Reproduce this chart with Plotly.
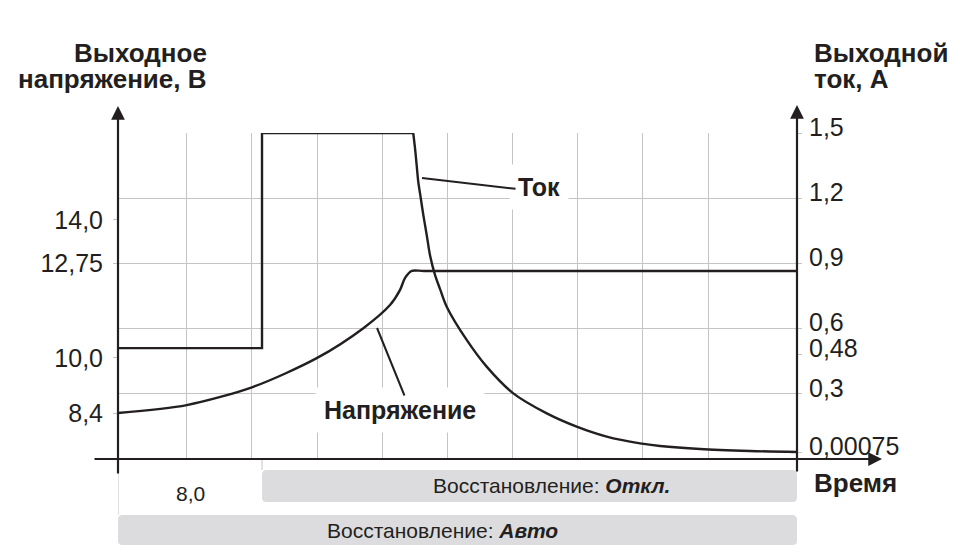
import plotly.graph_objects as go

# ---------------- data ----------------
# time axis in seconds; voltage in V (left axis); current in A (right axis)
voltage_t = [0.0, 3.82, 7.52, 11.04, 13.63, 15.11, 15.67, 15.94, 16.32, 17.0, 37.72]
voltage_v = [8.40, 8.63, 9.16, 9.99, 10.86, 11.53, 11.97, 12.31, 12.52, 12.52, 12.52]

current_step_t = [0.0, 8.0, 8.0, 16.4]
current_step_a = [0.51, 0.51, 1.5, 1.5]

current_decay_t = [16.4, 16.5, 16.59, 16.68, 16.82, 16.96, 17.15, 17.33, 17.61, 17.89,
                   18.26, 19.37, 20.48, 21.96, 23.82, 25.48, 27.15, 29.0, 30.11, 32.33,
                   35.11, 37.72]
current_decay_a = [1.5, 1.43, 1.353, 1.276, 1.2, 1.123, 1.031, 0.939, 0.847, 0.782,
                   0.701, 0.548, 0.425, 0.302, 0.21, 0.149, 0.103, 0.072, 0.06, 0.046,
                   0.037, 0.032]

grid_t = [3.83, 7.44, 11.06, 14.67, 18.28, 21.94, 25.5, 29.11, 32.78]
t_max = 37.72
off_start_t = 8.0

voltage_tick_vals = [8.4, 10.0, 12.75, 14.0]
voltage_tick_text = ["8,4", "10,0", "12,75", "14,0"]
current_tick_vals = [0.032, 0.3, 0.48, 0.6, 0.9, 1.2, 1.5]
current_tick_text = ["0,00075", "0,3", "0,48", "0,6", "0,9", "1,2", "1,5"]
current_grid_vals = [0.3, 0.6, 0.9, 1.2, 1.5]

# ---------------- style ----------------
INK = "#231f20"
GRID = "#c4c4c4"
BAND = "#dcdcde"
FONT = "Liberation Sans, Arial, sans-serif"
LW = 2.4

fig = go.Figure()
fig.add_trace(go.Scatter(x=voltage_t, y=voltage_v, mode="lines", yaxis="y",
                         line=dict(color=INK, width=LW, shape="spline", smoothing=0.8),
                         cliponaxis=False, hoverinfo="skip"))
fig.add_trace(go.Scatter(x=current_step_t, y=current_step_a, mode="lines", yaxis="y2",
                         line=dict(color=INK, width=LW), cliponaxis=False, hoverinfo="skip"))
fig.add_trace(go.Scatter(x=current_decay_t, y=current_decay_a, mode="lines", yaxis="y2",
                         line=dict(color=INK, width=LW, shape="spline", smoothing=0.9),
                         cliponaxis=False, hoverinfo="skip"))


def rounded_box(x0, x1, y0, y1, rx, ry):
    return (f"M {x0+rx},{y0} L {x1-rx},{y0} Q {x1},{y0} {x1},{y0-ry} "
            f"L {x1},{y1+ry} Q {x1},{y1} {x1-rx},{y1} L {x0+rx},{y1} "
            f"Q {x0},{y1} {x0},{y1+ry} L {x0},{y0-ry} Q {x0},{y0} {x0+rx},{y0} Z")


shapes = [
    dict(type="path", xref="x", yref="paper", layer="below", line=dict(width=0),
         fillcolor=BAND, path=rounded_box(off_start_t, t_max, -0.034, -0.132, 0.25, 0.014)),
    dict(type="path", xref="x", yref="paper", layer="below", line=dict(width=0),
         fillcolor=BAND, path=rounded_box(0, t_max, -0.172, -0.264, 0.25, 0.014)),
    dict(type="line", xref="x", yref="paper", x0=0, x1=0, y0=-0.045, y1=-0.172,
         line=dict(color=GRID, width=1)),
    dict(type="line", xref="x", yref="paper", x0=off_start_t, x1=off_start_t, y0=0, y1=-0.034,
         line=dict(color=GRID, width=1)),
]

title_font = dict(family=FONT, size=26, color=INK)
label_font = dict(family=FONT, size=25, color=INK)
band_font = dict(family=FONT, size=21, color=INK)

annotations = [
    # axes with arrows
    dict(x=0, y=1.0828, xref="paper", yref="paper", ax=0, ay=369, text="", showarrow=True,
         arrowhead=2, arrowsize=1.25, arrowwidth=2.2, arrowcolor=INK, standoff=0),
    dict(x=1, y=1.0859, xref="paper", yref="paper", ax=0, ay=368, text="", showarrow=True,
         arrowhead=2, arrowsize=1.25, arrowwidth=2.2, arrowcolor=INK, standoff=0),
    dict(x=1.1252, y=0, xref="paper", yref="paper", ax=-789, ay=0, text="", showarrow=True,
         arrowhead=2, arrowsize=1.25, arrowwidth=2.2, arrowcolor=INK, standoff=0),
    # axis titles
    dict(x=0.134, y=1.2454, xref="paper", yref="paper", xanchor="right", yanchor="middle",
         text="<b>Выходное</b>", showarrow=False, font=title_font),
    dict(x=0.134, y=1.1656, xref="paper", yref="paper", xanchor="right", yanchor="middle",
         text="<b>напряжение, В</b>", showarrow=False, font=title_font),
    dict(x=1.0221, y=1.2454, xref="paper", yref="paper", xanchor="left", yanchor="middle",
         text="<b>Выходной</b>", showarrow=False, font=title_font),
    dict(x=1.0221, y=1.1656, xref="paper", yref="paper", xanchor="left", yanchor="middle",
         text="<b>ток, А</b>", showarrow=False, font=title_font),
    dict(x=1.0221, y=-0.0736, xref="paper", yref="paper", xanchor="left", yanchor="middle",
         text="<b>Время</b>", showarrow=False, font=title_font),
    # curve labels (white background)
    dict(x=23.39, y=1.252, xref="x", yref="y2", xanchor="center", yanchor="middle",
         text="<b>Ток</b>", showarrow=False, bgcolor="white", borderpad=8, font=label_font),
    dict(x=15.67, y=0.225, xref="x", yref="y2", xanchor="center", yanchor="middle",
         text="<b>Напряжение</b>", showarrow=False, bgcolor="white", borderpad=8,
         font=label_font),
    # leader lines
    dict(x=16.89, y=1.293, xref="x", yref="y2", ax=95, ay=11, text="", showarrow=True,
         arrowhead=0, arrowwidth=2, arrowcolor=INK, standoff=0),
    dict(x=14.39, y=10.865, xref="x", yref="y", ax=28, ay=69, text="", showarrow=True,
         arrowhead=0, arrowwidth=2, arrowcolor=INK, standoff=0),
    # time label and recovery bands
    dict(x=off_start_t / 2, y=-0.1043, xref="x", yref="paper", xanchor="center",
         yanchor="middle", text="8,0", showarrow=False, font=band_font),
    dict(x=24.06, y=-0.0798, xref="x", yref="paper", xanchor="center", yanchor="middle",
         text="Восстановление: <b><i>Откл.</i></b>", showarrow=False, font=band_font),
    dict(x=18.0, y=-0.2178, xref="x", yref="paper", xanchor="center", yanchor="middle",
         text="Восстановление: <b><i>Авто</i></b>", showarrow=False, font=band_font),
]

fig.update_layout(
    width=952, height=552,
    margin=dict(l=110, r=163, t=125, b=101),
    paper_bgcolor="white", plot_bgcolor="white",
    showlegend=False,
    font=dict(family=FONT, size=25, color=INK),
    xaxis=dict(range=[0, t_max], tickmode="array", tickvals=grid_t, showticklabels=False,
               showgrid=True, gridcolor=GRID, gridwidth=1, zeroline=False, showline=False,
               ticks=""),
    yaxis=dict(range=[7.066, 16.52], tickmode="array", tickvals=voltage_tick_vals,
               ticktext=voltage_tick_text, showgrid=False, zeroline=False, showline=False,
               ticks="outside", ticklen=4, tickcolor=GRID, ticklabelstandoff=5,
               tickfont=dict(family=FONT, size=25, color=INK)),
    yaxis2=dict(range=[0, 1.5], overlaying="y", side="right", tickmode="array",
                tickvals=current_tick_vals, ticktext=current_tick_text, showgrid=False,
                zeroline=False, showline=False, ticks="outside", ticklen=4, tickcolor=GRID,
                ticklabelstandoff=2, ticklabelshift=-6,
                tickfont=dict(family=FONT, size=25, color=INK),
                minor=dict(tickmode="array", tickvals=current_grid_vals, showgrid=True,
                           gridcolor=GRID, gridwidth=1, ticks="")),
    shapes=shapes,
    annotations=annotations,
)

fig.write_html("out.html")
